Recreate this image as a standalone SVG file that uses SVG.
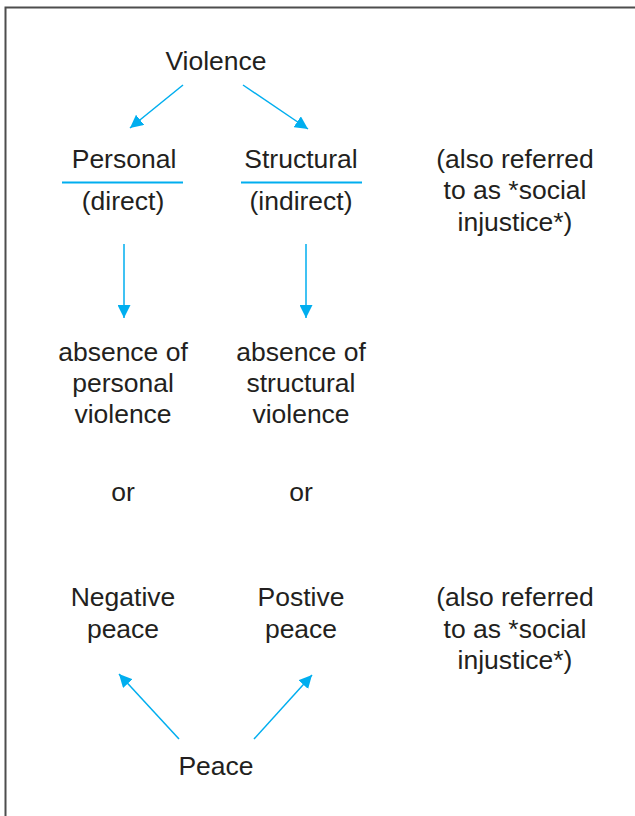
<svg xmlns="http://www.w3.org/2000/svg" width="635" height="816" viewBox="0 0 635 816">
<defs>
<style>
text{font-family:"Liberation Sans",Arial,sans-serif;font-size:26.5px;fill:#231f20;text-anchor:middle}
.c{stroke:#00aeef;stroke-width:1.5;fill:none}
.u{stroke:#00aeef;stroke-width:2}
</style>
<marker id="ah" viewBox="0 0 10 10" refX="10" refY="5" markerWidth="13" markerHeight="13" markerUnits="userSpaceOnUse" orient="auto">
<path d="M0 0L10 5L0 10z" fill="#00aeef"/>
</marker>
</defs>
<rect width="635" height="816" fill="#fff"/>
<path d="M5.5 816V7.5H635" fill="none" stroke="#4d4d4d" stroke-width="2"/>
<g id="connectors">
<line class="c" x1="183" y1="85" x2="130" y2="128" marker-end="url(#ah)"/>
<line class="c" x1="243" y1="85" x2="308" y2="129" marker-end="url(#ah)"/>
<line class="c" x1="124" y1="244" x2="124" y2="318" marker-end="url(#ah)"/>
<line class="c" x1="306" y1="244" x2="306" y2="318" marker-end="url(#ah)"/>
<line class="c" x1="179" y1="739" x2="119" y2="674" marker-end="url(#ah)"/>
<line class="c" x1="254" y1="739" x2="312" y2="675" marker-end="url(#ah)"/>
</g>
<g id="violence"><text x="216" y="70">Violence</text></g>
<g id="personal"><text x="124" y="168">Personal</text><line class="u" x1="62" y1="182.5" x2="183" y2="182.5"/><text x="123" y="210">(direct)</text></g>
<g id="structural"><text x="301" y="168">Structural</text><line class="u" x1="241" y1="182.5" x2="362" y2="182.5"/><text x="301" y="210">(indirect)</text></g>
<g id="note1"><text x="515" y="168">(also referred</text><text x="515" y="199">to as *social</text><text x="515" y="231">injustice*)</text></g>
<g id="absence-personal"><text x="123" y="361">absence of</text><text x="123" y="392">personal</text><text x="123" y="423">violence</text></g>
<g id="absence-structural"><text x="301" y="361">absence of</text><text x="301" y="392">structural</text><text x="301" y="423">violence</text></g>
<g id="or1"><text x="123" y="501">or</text></g>
<g id="or2"><text x="301" y="501">or</text></g>
<g id="negative"><text x="123" y="606">Negative</text><text x="123" y="638">peace</text></g>
<g id="positive"><text x="301" y="606">Postive</text><text x="301" y="638">peace</text></g>
<g id="note2"><text x="515" y="606">(also referred</text><text x="515" y="638">to as *social</text><text x="515" y="669">injustice*)</text></g>
<g id="peace"><text x="216" y="775">Peace</text></g>
</svg>
